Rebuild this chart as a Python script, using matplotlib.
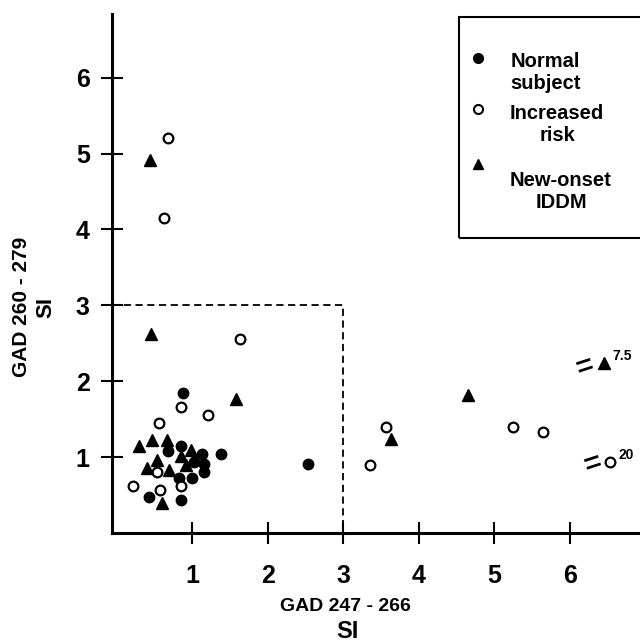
import numpy as np
import matplotlib
matplotlib.use('Agg')
import matplotlib.pyplot as plt
from matplotlib.patches import Rectangle

plt.rcParams['font.family'] = ['Liberation Sans', 'DejaVu Sans']
plt.rcParams['font.weight'] = 'bold'

# normal subjects (filled circles)
normal_x = [0.88, 0.68, 0.86, 1.13, 1.38, 1.03, 1.16, 1.16, 0.83, 1.00, 0.43, 0.86, 2.53]
normal_y = [1.85, 1.08, 1.15, 1.04, 1.04, 0.94, 0.91, 0.81, 0.73, 0.73, 0.47, 0.43, 0.91]

# increased risk (open circles)
risk_x = [0.85, 1.21, 0.56, 0.54, 0.22, 0.58, 0.86, 0.68, 0.63, 1.63, 3.35, 3.57, 5.25, 5.65, 6.53]
risk_y = [1.66, 1.55, 1.45, 0.80, 0.62, 0.57, 0.62, 5.21, 4.15, 2.55, 0.89, 1.40, 1.40, 1.33, 0.93]

# new-onset IDDM (triangles)
iddm_x = [1.58, 0.30, 0.47, 0.67, 0.99, 0.85, 0.54, 0.92, 0.40, 0.70, 0.60, 0.44, 0.45, 3.63, 4.65, 6.46]
iddm_y = [1.77, 1.15, 1.23, 1.23, 1.09, 1.01, 0.96, 0.90, 0.85, 0.83, 0.40, 4.91, 2.62, 1.24, 1.82, 2.24]

# off-scale points drawn at the edge, with their real value
broken = [(6.46, 2.24, '7.5', (-14, -3)), (6.53, 0.93, '20', (-12, -1))]

cutoff = 3
ticks = [1, 2, 3, 4, 5, 6]

fig = plt.figure(figsize=(6.4, 6.44), dpi=100)
ax = fig.add_axes([0.175, 0.1724, 0.825, 0.806])

ax.plot(normal_x, normal_y, 'o', color='black', ms=7.5, clip_on=False)
ax.plot(risk_x, risk_y, 'o', mfc='white', mec='black', mew=1.6, ms=7, clip_on=False)
ax.plot(iddm_x, iddm_y, '^', color='black', ms=8, clip_on=False)

xmin = -0.06
ax.plot([xmin, cutoff, cutoff], [cutoff, cutoff, 0], color='black', lw=1.3,
        linestyle=(0, (4, 2.5)))

for x, y, lab, off in broken:
    ax.annotate('=', xy=(x, y), xytext=off, textcoords='offset points',
                ha='center', va='center', rotation=18, fontsize=21, fontweight='bold')
    ax.annotate(lab, xy=(x, y), xytext=(6, 5), textcoords='offset points',
                ha='left', va='center', fontsize=10, fontweight='bold')

ax.set_xlim(xmin, 6.93)
ax.set_ylim(0, 6.84)
ax.set_xticks(ticks)
ax.set_yticks(ticks)
ax.set_xticklabels([str(t) for t in ticks])
ax.set_yticklabels([str(t) for t in ticks])
for s in ['top', 'right']:
    ax.spines[s].set_visible(False)
for s in ['left', 'bottom']:
    ax.spines[s].set_linewidth(2.2)
ax.tick_params(axis='both', direction='inout', length=16, width=1.5, labelsize=18)
ax.tick_params(axis='x', pad=14)
ax.tick_params(axis='y', pad=8)

# axis labels
fig.text(0.539, 0.0575, 'GAD 247 - 266', ha='center', va='center', fontsize=14, fontweight='bold')
fig.text(0.543, 0.02, 'SI', ha='center', va='center', fontsize=17, fontweight='bold')
fig.text(0.034, 0.523, 'GAD 260 - 279', ha='center', va='center', rotation=90,
         fontsize=15, fontweight='bold')
fig.text(0.072, 0.522, 'SI', ha='center', va='center', rotation=90, fontsize=16, fontweight='bold')

# legend box drawn by hand
fig.patches.append(Rectangle((0.717, 0.630), 0.3, 0.344, transform=fig.transFigure,
                             fill=False, lw=1.5, edgecolor='black'))
fig.lines.append(plt.Line2D([0.747], [0.910], marker='o', color='black', ms=7,
                            transform=fig.transFigure))
fig.lines.append(plt.Line2D([0.747], [0.831], marker='o', mfc='white', mec='black', mew=1.5,
                            ms=6.5, transform=fig.transFigure))
fig.lines.append(plt.Line2D([0.747], [0.745], marker='^', color='black', ms=7.5,
                            transform=fig.transFigure))
leg_labels = ['Normal\nsubject', 'Increased\nrisk', 'New-onset\nIDDM']
leg_y = [0.888, 0.807, 0.703]
for lab, y in zip(leg_labels, leg_y):
    fig.text(0.797, y, lab, ha='left', va='center', multialignment='center',
             fontsize=14.5, fontweight='bold', linespacing=1.2)

fig.savefig('out.png', dpi=100)
